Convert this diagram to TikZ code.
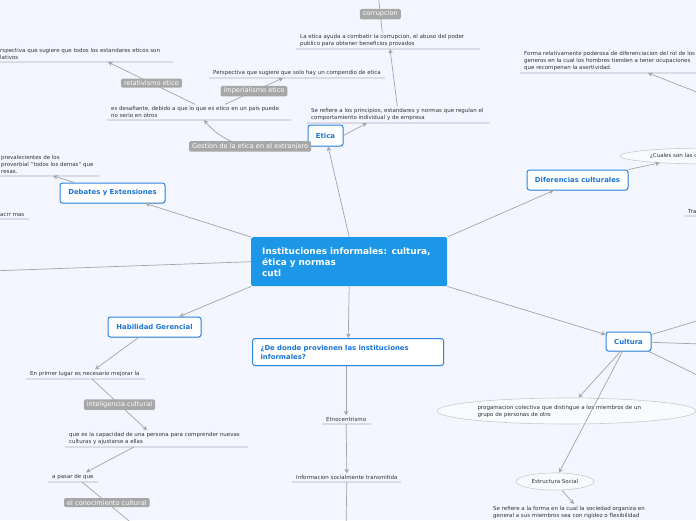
\documentclass[tikz,border=0pt]{standalone}
\usepackage{fontspec}
\setmainfont{DejaVu Sans}
\usetikzlibrary{arrows.meta,calc,shapes.geometric,shadows}

\definecolor{bgcol}{HTML}{F3F6FE}
\definecolor{linecol}{HTML}{A4A4A4}
\definecolor{ulinecol}{HTML}{DADBE4}
\definecolor{tagcol}{HTML}{A7A7A7}
\definecolor{maincol}{HTML}{1C97E8}
\definecolor{topicline}{HTML}{2C86E0}
\definecolor{topictext}{HTML}{1B74D6}
\definecolor{notecol}{HTML}{333333}
\definecolor{bubbleline}{HTML}{CACACA}

\begin{document}
\begin{tikzpicture}[x=1pt,y=-1pt,
    conn/.style={draw=linecol, line width=0.7pt},
    arr/.style={conn, -{Stealth[length=4.5pt,width=4.5pt]}},
    note/.style={inner xsep=4pt, inner ysep=2pt, align=left, text=notecol,
        font=\fontsize{5.5}{7}\selectfont},
    uline/.style={draw=ulinecol, line width=1.2pt},
    tag/.style={fill=tagcol, text=white, rounded corners=1.5pt, inner xsep=3pt,
        inner ysep=2pt, font=\fontsize{6.6}{7}\selectfont},
    topic/.style={draw=topicline, line width=1pt, fill=white, rounded corners=2.5pt,
        text=topictext, font=\fontsize{6.9}{9}\selectfont\bfseries,
        drop shadow={shadow xshift=0.5pt, shadow yshift=-0.8pt, opacity=0.25}},
    mainbox/.style={fill=maincol, rounded corners=2pt, text=white, align=left,
        inner xsep=11pt, font=\fontsize{8.9}{11}\selectfont\bfseries},
    bubble/.style={ellipse, draw=bubbleline, line width=0.6pt, fill=white!45!bgcol,
        inner sep=0pt, align=left, text=notecol, font=\fontsize{5.5}{7}\selectfont}
]
    % Fondo y marco
    \fill[bgcol] (0,0) rectangle (696,520);
    \useasboundingbox (0,0) rectangle (696,520);
    \clip (0,0) rectangle (696,520);

    % Nodo central
    \node[mainbox, anchor=north west, minimum width=196pt, minimum height=49pt,
        text width=174pt] (main) at (251,237)
        {Instituciones informales: cultura,\\ética y normas\\cutl};

    % Temas principales
    \node[topic, minimum width=35pt, minimum height=21pt] (etica) at (325.5,135.5) {Etica};
    \node[topic, minimum width=105pt, minimum height=20pt] (debates) at (112.5,193) {Debates y Extensiones};
    \node[topic, minimum width=101pt, minimum height=20pt] (difer) at (577.5,180) {Diferencias culturales};
    \node[topic, minimum width=93pt, minimum height=20pt] (habil) at (154.5,327) {Habilidad Gerencial};
    \node[topic, minimum width=45pt, minimum height=19pt] (cultura) at (628.5,341.5) {Cultura};
    \node[topic, anchor=north west, minimum height=27pt, text width=175pt, inner xsep=8pt,
        align=left] (dedonde) at (252,338) {¿De donde provienen las instituciones\\informales?};

    % Rama de Etica
    \node[note, anchor=south west] (eticaDef) at (307,123)
        {Se refiere a los principios, estandares y normas que regulan el\\comportamiento individual y de empresa};
    \node[note, anchor=south west] (corrDef) at (296,49)
        {La etica ayuda a combatir la corrupcion, el abuso del poder\\publico para obtener beneficios provados};
    \node[note, anchor=south west] (desaf) at (107,120)
        {es desafiante, debido a que lo que es etico en un pais puede\\no serio en otros};
    \node[note, anchor=south west] (imperDef) at (209,78)
        {Perspectiva que sugiere que solo hay un compendio de etica};
    \node[note, anchor=south west] (relatDef) at (-4,62)
        {rspectiva que sugiere que todos los estandares eticos son\\lativos};

    % Rama de Debates (cortada por el borde)
    \node[note, anchor=south west] (debDef) at (-3,176)
        {prevalecientes de los\\proverbial "todos los demas" que\\resas.};
    \node[note, anchor=south west] (acrr) at (-4,219) {acrr mas};

    % Rama de Diferencias culturales
    \node[note, anchor=south west] (formaDef) at (520,73)
        {Forma relativamente poderosa de diferenciacion del rol de los\\generos en la cual los hombres tienden a tener ocupaciones\\que recompenan la asertividad.};
    \node[bubble, minimum width=178pt, minimum height=16pt, text width=118pt] (cuales) at (709,156)
        {¿Cuales son las c};
    \node[note, anchor=south west] (tra) at (684,216) {Tra};

    % Rama de Cultura
    \node[bubble, minimum width=259pt, minimum height=26pt, text width=178pt] (progam) at (566.5,411)
        {progamacion colectiva que distingue a los miembros de un\\grupo de personas de otro};
    \node[bubble, minimum width=78pt, minimum height=17pt, align=center] (estruct) at (555,481.5)
        {Estructura Social};
    \node[note, anchor=north west] (estructDef) at (489,504)
        {Se refiere a la forma en la cual la sociedad organiza en\\general a sus miembros sea con rigidez o flexibilidad};

    % Rama de Habilidad Gerencial
    \node[note, anchor=south west] (primer) at (26,379) {En primer lugar es necesario mejorar la};
    \node[note, anchor=south west] (capac) at (65,447)
        {que es la capacidad de una persona para comprender nuevas\\culturas y ajustarse a ellas};
    \node[note, anchor=south west] (pasar) at (48,482) {a pasar de que};

    % Rama de De donde provienen
    \node[note, anchor=south west] (etno) at (322,424) {Etnocentrismo};
    \node[note, anchor=south west] (info) at (292,482) {Informacion socialmente transmitida};

    % Subrayados de los textos
    \foreach \n/\len in {eticaDef/183, corrDef/184, desaf/184, imperDef/176, relatDef/177,
        debDef/103, acrr/33, formaDef/190, tra/20, primer/119, capac/183, pasar/50,
        etno/49, info/109}
        \draw[uline] (\n.south west) -- ++(\len,0);

    % Extremos fuera del marco
    \coordinate (corrTop) at (378,-8);
    \coordinate (leftEnd) at (-10,271);
    \coordinate (formaSrc) at (730,105);
    \coordinate (cR1) at (730,311);
    \coordinate (cR2) at (730,345);
    \coordinate (cR3) at (730,391);
    \coordinate (pasarEnd) at (140,530);
    \coordinate (infoEnd) at (346,530);

    % Centro hacia los temas
    \draw[arr] (main.north) -- (etica);
    \draw[arr] (main.north west) -- (debates);
    \draw[arr] (main.north east) -- (difer);
    \draw[arr] (main.south west) -- (habil);
    \draw[arr] (main.south) -- (dedonde);
    \draw[arr] (main.south east) -- (cultura);
    \draw[conn] (main.west) -- (leftEnd);

    % Conectores de Etica
    \draw[arr] (etica.east) -- ($(eticaDef.south west)+(60,0)$);
    \draw[arr] (eticaDef.north) -- ($(corrDef.south west)+(94,0)$);
    \draw[conn] (corrDef.north) -- (corrTop) node[tag, pos=0.45] (tCorr) {corrupcion};
    \draw[arr] (etica.south west) .. controls +(-42,3) and +(27,32) .. ($(desaf.south west)+(97,0)$)
        node[tag, pos=0.5] (tGest) {Gestion de la etica en el extranjero};
    \draw[arr] (desaf.north) -- ($(relatDef.south west)+(112,0)$)
        node[tag, pos=0.5] (tRel) {relativismo etico};
    \draw[arr] ($(desaf.north west)+(118,0)$) -- ($(imperDef.south west)+(74,0)$)
        node[tag, pos=0.5] (tImp) {imperialismo etico};

    % Conectores de Debates y Diferencias
    \draw[arr] ($(debates.north west)+(15,0)$) -- ($(debDef.south west)+(56,0)$);
    \draw[arr] (difer.north east) -- (cuales.188);
    \draw[arr] (formaSrc) -- ($(formaDef.south west)+(128,0)$);

    % Conectores de Cultura
    \draw[conn] (cultura) -- (cR1);
    \draw[conn] (cultura) -- (cR2);
    \draw[conn] (cultura) -- (cR3);
    \draw[arr] ($(cultura.south)+(-8,0)$) -- ($(progam.north)+(12,0)$);
    \draw[arr] ($(cultura.south)+(-6,0)$) -- ($(estruct.north)+(4,0)$);
    \draw[arr] ($(estruct.south)+(7,0)$) -- ($(estructDef.north west)+(85,0)$);

    % Conectores de Habilidad Gerencial
    \draw[arr] ($(habil.south)+(-16,0)$) -- ($(primer.north west)+(69,0)$);
    \draw[arr] ($(primer.south west)+(66,0)$) -- ($(capac.north west)+(82,0)$)
        node[tag, pos=0.5] (tIntel) {inteligencia cultural};
    \draw[arr] ($(capac.south west)+(69,0)$) -- ($(pasar.north west)+(38,0)$);
    \draw[conn] ($(pasar.south west)+(34,0)$) -- (pasarEnd)
        node[tag, pos=0.43] (tCono) {el conocimiento cultural};

    % Conectores de De donde provienen
    \draw[arr] (dedonde.south -| etno.north) -- (etno.north);
    \draw[arr] (etno.south) -- (info.north);
    \draw[conn] (info.south) -- (infoEnd);
\end{tikzpicture}
\end{document}
